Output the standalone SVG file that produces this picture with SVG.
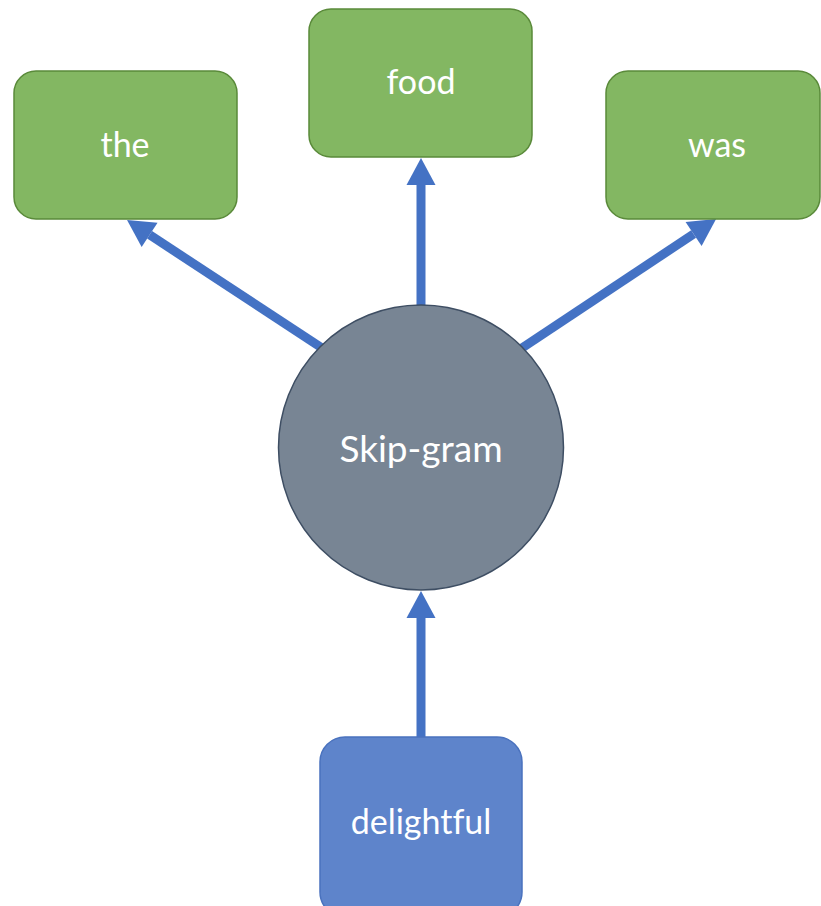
<svg xmlns="http://www.w3.org/2000/svg" width="821" height="906" viewBox="0 0 821 906">
  <style>
    .ctx { fill: #83B762; stroke: #5A8A3A; stroke-width: 1.5; }
    .hub { fill: #788594; stroke: #3E4E63; stroke-width: 1.5; }
    .in { fill: #5E84CB; stroke: #4A72BE; stroke-width: 1.5; }
    .lbl { font-family: Lato, "Open Sans", "Liberation Sans", sans-serif; fill: #FFFFFF; text-anchor: middle; font-size: 34px; font-variant-ligatures: none; }
    .hub-lbl { font-size: 37px; }
    .arrow { stroke: #4472C4; stroke-width: 9; fill: none; marker-end: url(#head); }
  </style>
  <defs>
    <marker id="head" markerUnits="userSpaceOnUse" markerWidth="30" markerHeight="32" viewBox="0 -16 28 32" refX="0" refY="0" orient="auto">
      <path d="M0,-14.5 L27,0 L0,14.5 Z" fill="#4472C4"/>
    </marker>
  </defs>

  <!-- connectors: each line stops at the arrowhead base, the marker draws the tip -->
  <g id="connectors">
    <path class="arrow" d="M421,310 L421,185"/>
    <path class="arrow" d="M421,740 L421,618"/>
    <path class="arrow" d="M325,350 L149.6,234.8"/>
    <path class="arrow" d="M519,350 L693.6,234"/>
  </g>

  <g id="node-the">
    <rect class="ctx" x="14" y="71" width="223" height="148" rx="22"/>
    <text class="lbl" x="125" y="157">the</text>
  </g>
  <g id="node-food">
    <rect class="ctx" x="309" y="9" width="223" height="148" rx="22"/>
    <text class="lbl" x="421" y="94">food</text>
  </g>
  <g id="node-was">
    <rect class="ctx" x="606" y="71" width="214" height="148" rx="22"/>
    <text class="lbl" x="717" y="157">was</text>
  </g>
  <g id="node-skipgram">
    <circle class="hub" cx="421" cy="447.5" r="142.5"/>
    <text class="lbl hub-lbl" x="421" y="462">Skip-gram</text>
  </g>
  <g id="node-delightful">
    <rect class="in" x="320" y="737" width="202" height="180" rx="25"/>
    <text class="lbl" x="421" y="834">delightful</text>
  </g>
</svg>
